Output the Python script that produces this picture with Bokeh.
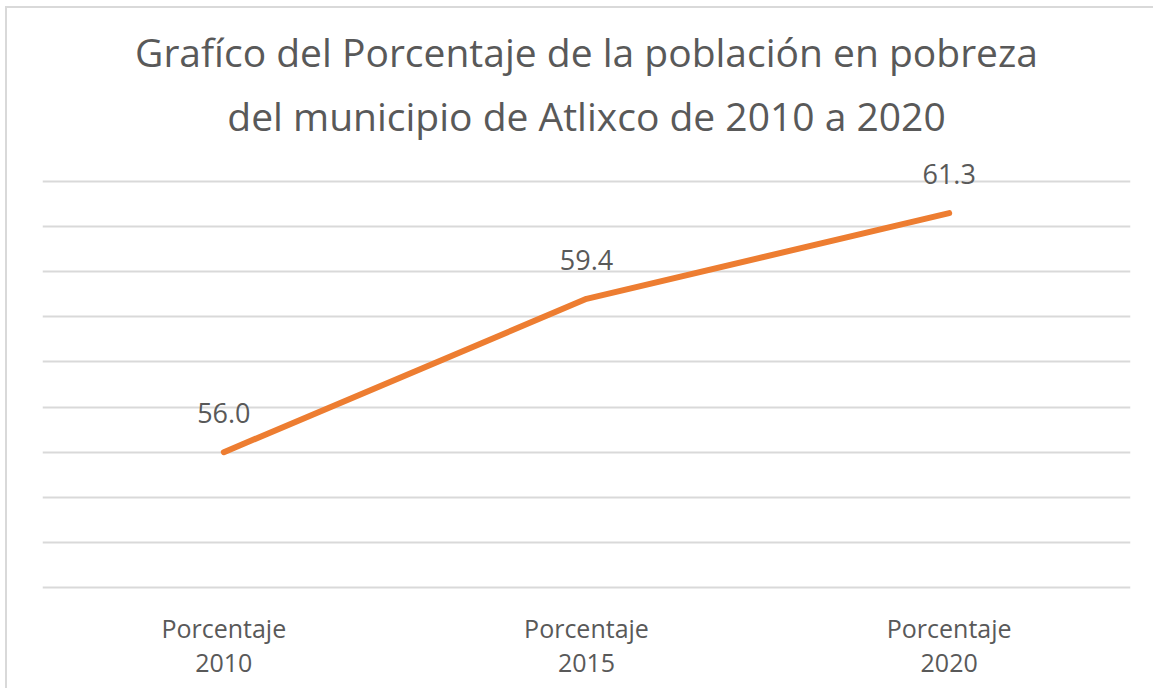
from bokeh.plotting import figure
from bokeh.models import FactorRange, Range1d, FixedTicker, ColumnDataSource, Title
from bokeh.core.properties import value
from bokeh.embed import file_html
from bokeh.resources import INLINE

title_lines = ["Grafíco del Porcentaje de la población en pobreza",
               "del municipio de Atlixco de 2010 a 2020"]
categories = ["Porcentaje\n2010", "Porcentaje\n2015", "Porcentaje\n2020"]
values = [56.0, 59.4, 61.3]
labels = ["56.0", "59.4", "61.3"]
y_ticks = [53, 54, 55, 56, 57, 58, 59, 60, 61, 62]

TEXT = "#595959"
FONT = "Open Sans"

src = ColumnDataSource(dict(x=categories, y=values, t=labels))

p = figure(
    width=1148, height=682,
    x_range=FactorRange(factors=categories, range_padding=0),
    y_range=Range1d(52.8, 62.6),
    output_backend="svg", toolbar_location=None,
    min_border_left=35, min_border_right=25,
    min_border_top=146, min_border_bottom=94,
)
p.styles = {"border-left": "2px solid #d9d9d9", "border-top": "2px solid #d9d9d9",
            "margin-left": "5px", "margin-top": "6px"}

# first line (outer)
p.title.text = title_lines[0]
p.title.align = "center"
p.title.text_font = FONT
p.title.text_font_size = "39px"
p.title.text_font_style = "normal"
p.title.text_color = TEXT
p.title.standoff = -6

# second line (closest to the frame)
p.add_layout(Title(text=title_lines[1], align="center", text_font=FONT,
                   text_font_size="39px", text_font_style="normal",
                   text_color=TEXT, standoff=25), "above")

p.outline_line_color = None
p.background_fill_color = "white"
p.border_fill_color = "white"

p.yaxis.visible = False
p.yaxis.ticker = FixedTicker(ticks=y_ticks)
p.ygrid.ticker = FixedTicker(ticks=y_ticks)
p.ygrid.grid_line_color = "#d9d9d9"
p.ygrid.grid_line_width = 2
p.xgrid.grid_line_color = None

p.xaxis.axis_line_color = None
p.xaxis.major_tick_line_color = None
p.xaxis.minor_tick_line_color = None
p.xaxis.major_label_text_font = FONT
p.xaxis.major_label_text_font_size = "25px"
p.xaxis.major_label_text_color = TEXT
p.xaxis.major_label_text_line_height = 1.0
p.xaxis.major_label_standoff = 8

p.line("x", "y", source=src, line_color="#ED7D31", line_width=6,
       line_cap="round", line_join="round")
p.text("x", "y", text="t", source=src, y_offset=-39,
       text_align="center", text_baseline="middle",
       text_font=value(FONT), text_font_size="27px", text_color=TEXT)

open("out.html", "w").write(file_html(p, INLINE))
